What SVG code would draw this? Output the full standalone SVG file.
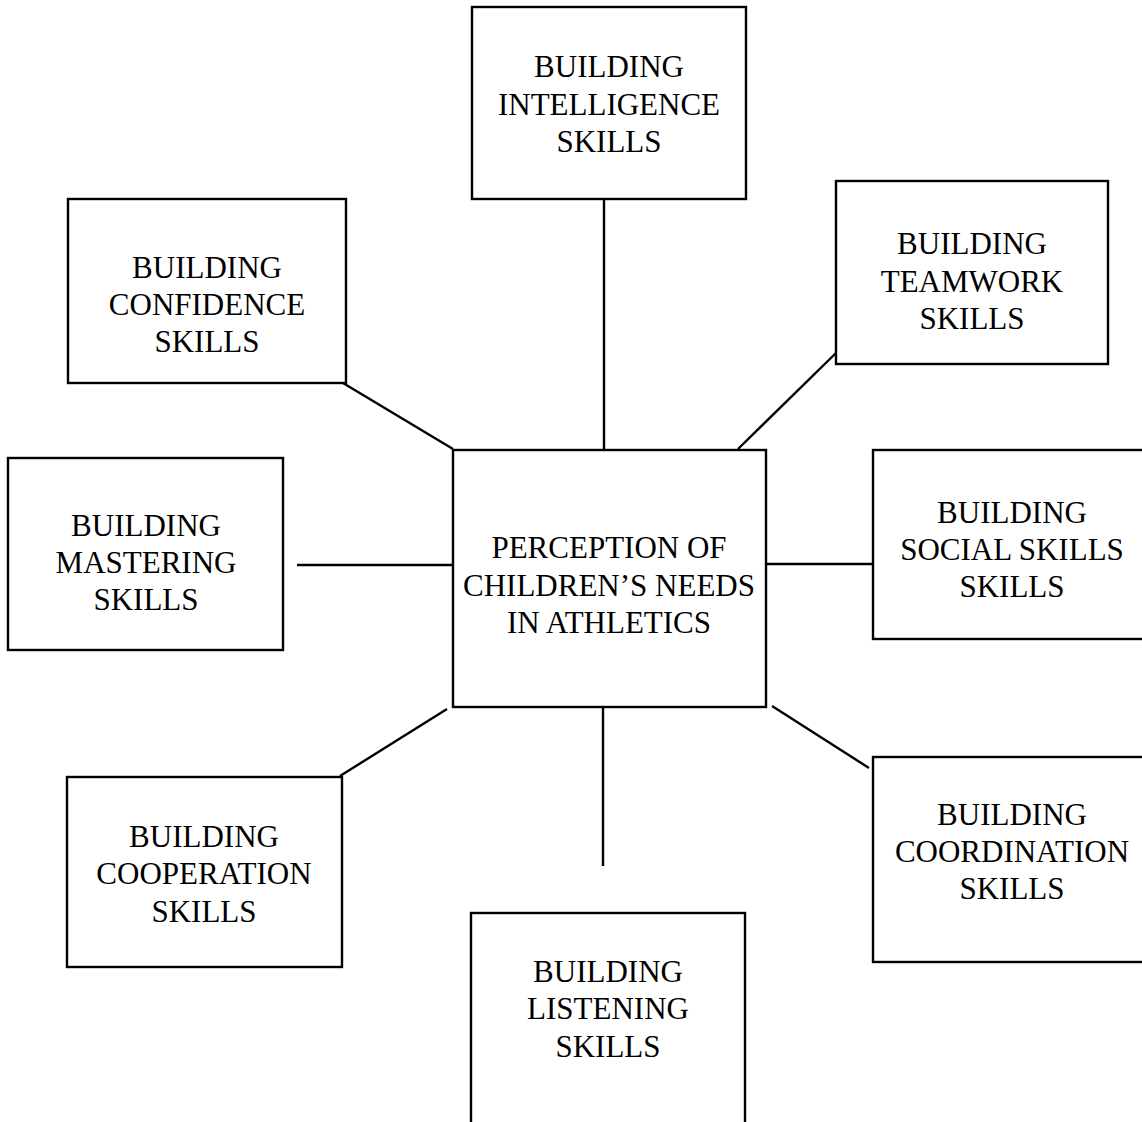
<svg xmlns="http://www.w3.org/2000/svg" width="1142" height="1122" viewBox="0 0 1142 1122">
<style>
.box{fill:#fff;stroke:#000;stroke-width:2.4}
.lbl{font-family:'Liberation Serif','Tinos','DejaVu Serif',serif;font-size:31px;fill:#000;text-anchor:middle}
.con line{stroke:#000;stroke-width:2.4}
</style>
<rect width="1142" height="1122" fill="#fff"/>
<g class="con" id="connectors">
<line x1="604" y1="199" x2="604" y2="450"/>
<line x1="343" y1="383" x2="453" y2="449"/>
<line x1="836" y1="353" x2="738" y2="449"/>
<line x1="297" y1="565" x2="453" y2="565"/>
<line x1="766" y1="564" x2="873" y2="564"/>
<line x1="447" y1="709" x2="340" y2="776"/>
<line x1="603" y1="708" x2="603" y2="866"/>
<line x1="772" y1="706" x2="869" y2="768"/>
</g>
<g id="center">
<rect class="box" x="453" y="450" width="313" height="257"/>
<text class="lbl" font-family="Liberation Serif, serif" x="609" y="558">PERCEPTION OF</text>
<text class="lbl" font-family="Liberation Serif, serif" x="609" y="596">CHILDREN’S NEEDS</text>
<text class="lbl" font-family="Liberation Serif, serif" x="609" y="633">IN ATHLETICS</text>
</g>
<g id="intelligence">
<rect class="box" x="472" y="7" width="274" height="192"/>
<text class="lbl" x="609" y="77">BUILDING</text>
<text class="lbl" x="609" y="115">INTELLIGENCE</text>
<text class="lbl" x="609" y="152">SKILLS</text>
</g>
<g id="confidence">
<rect class="box" x="68" y="199" width="278" height="184"/>
<text class="lbl" x="207" y="278">BUILDING</text>
<text class="lbl" x="207" y="315">CONFIDENCE</text>
<text class="lbl" x="207" y="352">SKILLS</text>
</g>
<g id="teamwork">
<rect class="box" x="836" y="181" width="272" height="183"/>
<text class="lbl" x="972" y="254">BUILDING</text>
<text class="lbl" x="972" y="292">TEAMWORK</text>
<text class="lbl" x="972" y="329">SKILLS</text>
</g>
<g id="mastering">
<rect class="box" x="8" y="458" width="275" height="192"/>
<text class="lbl" x="146" y="536">BUILDING</text>
<text class="lbl" x="146" y="573">MASTERING</text>
<text class="lbl" x="146" y="610">SKILLS</text>
</g>
<g id="social">
<rect class="box" x="873" y="450" width="280" height="189"/>
<text class="lbl" x="1012" y="523">BUILDING</text>
<text class="lbl" x="1012" y="560">SOCIAL SKILLS</text>
<text class="lbl" x="1012" y="597">SKILLS</text>
</g>
<g id="cooperation">
<rect class="box" x="67" y="777" width="275" height="190"/>
<text class="lbl" x="204" y="847">BUILDING</text>
<text class="lbl" x="204" y="884">COOPERATION</text>
<text class="lbl" x="204" y="922">SKILLS</text>
</g>
<g id="coordination">
<rect class="box" x="873" y="757" width="280" height="205"/>
<text class="lbl" x="1012" y="825">BUILDING</text>
<text class="lbl" x="1012" y="862">COORDINATION</text>
<text class="lbl" x="1012" y="899">SKILLS</text>
</g>
<g id="listening">
<rect class="box" x="471" y="913" width="274" height="220"/>
<text class="lbl" x="608" y="982">BUILDING</text>
<text class="lbl" x="608" y="1019">LISTENING</text>
<text class="lbl" x="608" y="1057">SKILLS</text>
</g>
</svg>
